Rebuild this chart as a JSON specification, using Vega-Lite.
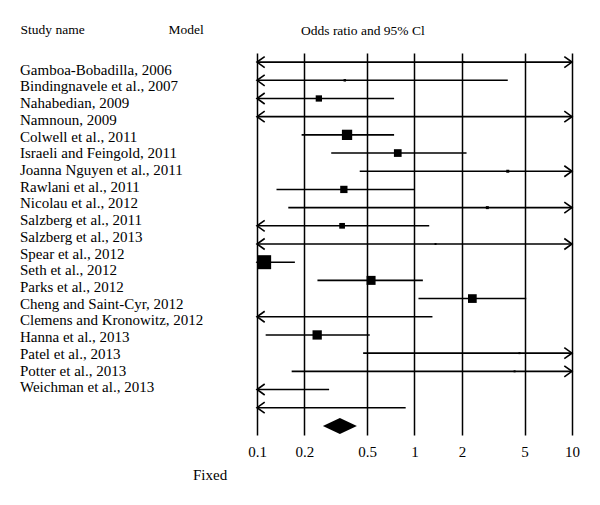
{
  "$schema": "https://vega.github.io/schema/vega-lite/v6.json",
  "background": "white",
  "padding": {"left": 20, "top": 22, "right": 5, "bottom": 5},
  "bounds": "flush",
  "spacing": 89,
  "config": {"view": {"stroke": null}, "font": "Liberation Serif"},
  "datasets": {
    "studies": [
      {"id": 1, "name": "Gamboa-Bobadilla, 2006", "est": 2.05, "lo": 0.05, "hi": 20, "weight": 0.52},
      {"id": 2, "name": "Bindingnavele et al., 2007", "est": 0.361, "lo": 0.05, "hi": 3.91, "weight": 0.81},
      {"id": 3, "name": "Nahabedian, 2009", "est": 0.247, "lo": 0.05, "hi": 0.742, "weight": 5.15},
      {"id": 4, "name": "Namnoun, 2009", "est": null, "lo": 0.05, "hi": 20, "weight": null},
      {"id": 5, "name": "Colwell et al., 2011", "est": 0.373, "lo": 0.192, "hi": 0.742, "weight": 13.76},
      {"id": 6, "name": "Israeli and Feingold, 2011", "est": 0.783, "lo": 0.296, "hi": 2.14, "weight": 7.7},
      {"id": 7, "name": "Joanna Nguyen et al., 2011", "est": 3.91, "lo": 0.449, "hi": 20, "weight": 1.17},
      {"id": 8, "name": "Rawlani et al., 2011", "est": 0.356, "lo": 0.133, "hi": 1.0, "weight": 6.92},
      {"id": 9, "name": "Nicolau et al., 2012", "est": 2.9, "lo": 0.158, "hi": 20, "weight": 1.17},
      {"id": 10, "name": "Salzberg et al., 2011", "est": 0.347, "lo": 0.05, "hi": 1.24, "weight": 4.22},
      {"id": 11, "name": "Salzberg et al., 2013", "est": 1.36, "lo": 0.05, "hi": 20, "weight": 0.52},
      {"id": 12, "name": "Spear et al., 2012", "est": 0.111, "lo": 0.05, "hi": 0.174, "weight": 25.45},
      {"id": 13, "name": "Seth et al., 2012", "est": 0.53, "lo": 0.242, "hi": 1.13, "weight": 10.52},
      {"id": 14, "name": "Parks et al., 2012", "est": 2.33, "lo": 1.06, "hi": 5.12, "weight": 9.83},
      {"id": 15, "name": "Cheng and Saint-Cyr, 2012", "est": null, "lo": 0.05, "hi": 1.3, "weight": null},
      {"id": 16, "name": "Clemens and Kronowitz, 2012", "est": 0.241, "lo": 0.1135, "hi": 0.52, "weight": 11.23},
      {"id": 17, "name": "Hanna et al., 2013", "est": 4.64, "lo": 0.472, "hi": 20, "weight": 0.52},
      {"id": 18, "name": "Patel et al., 2013", "est": 4.32, "lo": 0.166, "hi": 20, "weight": 0.52},
      {"id": 19, "name": "Potter et al., 2013", "est": null, "lo": 0.05, "hi": 0.287, "weight": null},
      {"id": 20, "name": "Weichman et al., 2013", "est": null, "lo": 0.05, "hi": 0.879, "weight": null},
      {"id": 21, "name": "Summary (Fixed)", "est": 0.336, "lo": 0.261, "hi": 0.432, "weight": null}
    ]
  },
  "hconcat": [
    {
      "width": 148,
      "height": 351,
      "data": {"name": "studies"},
      "transform": [{"filter": "datum.id <= 20"}],
      "title": {"text": "Fixed", "orient": "bottom", "anchor": "start", "frame": "group", "dx": 173, "offset": 76, "baseline": "alphabetic", "fontSize": 15, "font": "Liberation Serif", "fontWeight": "normal", "color": "black"},
      "mark": {"type": "text", "align": "left", "baseline": "middle", "fontSize": 15, "font": "Liberation Serif", "color": "black"},
      "encoding": {
        "x": {"datum": "Study name", "type": "nominal",
          "scale": {"type": "point", "domain": ["Study name", "Model"], "padding": 0},
          "axis": {"orient": "top", "title": null, "domain": false, "ticks": false, "tickSize": 0, "labelPadding": 20, "labelAlign": "left", "labelBaseline": "alphabetic", "labelAngle": 0, "labelFontSize": 13.5, "labelFont": "Liberation Serif", "labelColor": "black"}},
        "y": {"field": "id", "type": "ordinal", "scale": {"type": "point", "padding": 1.05}, "axis": null},
        "text": {"field": "name"}
      }
    },
    {
      "width": 315,
      "height": 382,
      "data": {"name": "studies"},
      "title": {"text": "Odds ratio and 95% Cl", "anchor": "start", "frame": "group", "dx": 44, "offset": 5, "baseline": "alphabetic", "fontSize": 13.5, "font": "Liberation Serif", "fontWeight": "normal", "color": "black"},
      "encoding": {
        "y": {"field": "id", "type": "ordinal", "scale": {"type": "band", "paddingInner": 0, "paddingOuter": 0}, "axis": null}
      },
      "layer": [
        {
          "transform": [{"filter": "datum.id <= 20"}],
          "mark": {"type": "rule", "strokeWidth": 1.6, "color": "black"},
          "encoding": {
            "x": {"field": "lo", "type": "quantitative",
              "scale": {"type": "log", "domain": [0.1, 10], "clamp": true, "nice": false},
              "axis": {"values": [0.1, 0.2, 0.5, 1, 2, 5, 10], "format": "~g", "title": null, "domain": false, "ticks": false, "tickSize": 0, "grid": true, "gridColor": "black", "gridOpacity": 1, "gridWidth": 1.5, "labelPadding": 9, "labelFontSize": 15, "labelFont": "Liberation Serif", "labelColor": "black", "labelFlush": false, "labelOverlap": false, "labelBound": false}},
            "x2": {"field": "hi"}
          }
        },
        {
          "transform": [{"filter": "datum.id <= 20 && datum.lo < 0.1"}],
          "mark": {"type": "point", "shape": "M1.4,-1L0,0L1.4,1", "filled": false, "size": 121, "strokeWidth": 1.6, "color": "black", "opacity": 1},
          "encoding": {"x": {"datum": 0.1, "type": "quantitative"}}
        },
        {
          "transform": [{"filter": "datum.id <= 20 && datum.hi > 10"}],
          "mark": {"type": "point", "shape": "M-1.4,-1L0,0L-1.4,1", "filled": false, "size": 121, "strokeWidth": 1.6, "color": "black", "opacity": 1},
          "encoding": {"x": {"datum": 10, "type": "quantitative"}}
        },
        {
          "transform": [{"filter": "datum.id <= 20 && isValid(datum.est)"}],
          "mark": {"type": "point", "shape": "square", "filled": true, "color": "black", "opacity": 1, "strokeWidth": 0},
          "encoding": {
            "x": {"field": "est", "type": "quantitative"},
            "size": {"field": "weight", "type": "quantitative", "scale": {"type": "linear", "domain": [0, 25.45], "range": [0, 196], "zero": true}, "legend": null}
          }
        },
        {
          "transform": [{"filter": "datum.id == 21"}],
          "mark": {"type": "point", "shape": "M-1,0L0,-0.47L1,0L0,0.47Z", "filled": true, "size": 1156, "color": "black", "opacity": 1, "strokeWidth": 0},
          "encoding": {"x": {"field": "est", "type": "quantitative"}}
        }
      ]
    }
  ]
}
